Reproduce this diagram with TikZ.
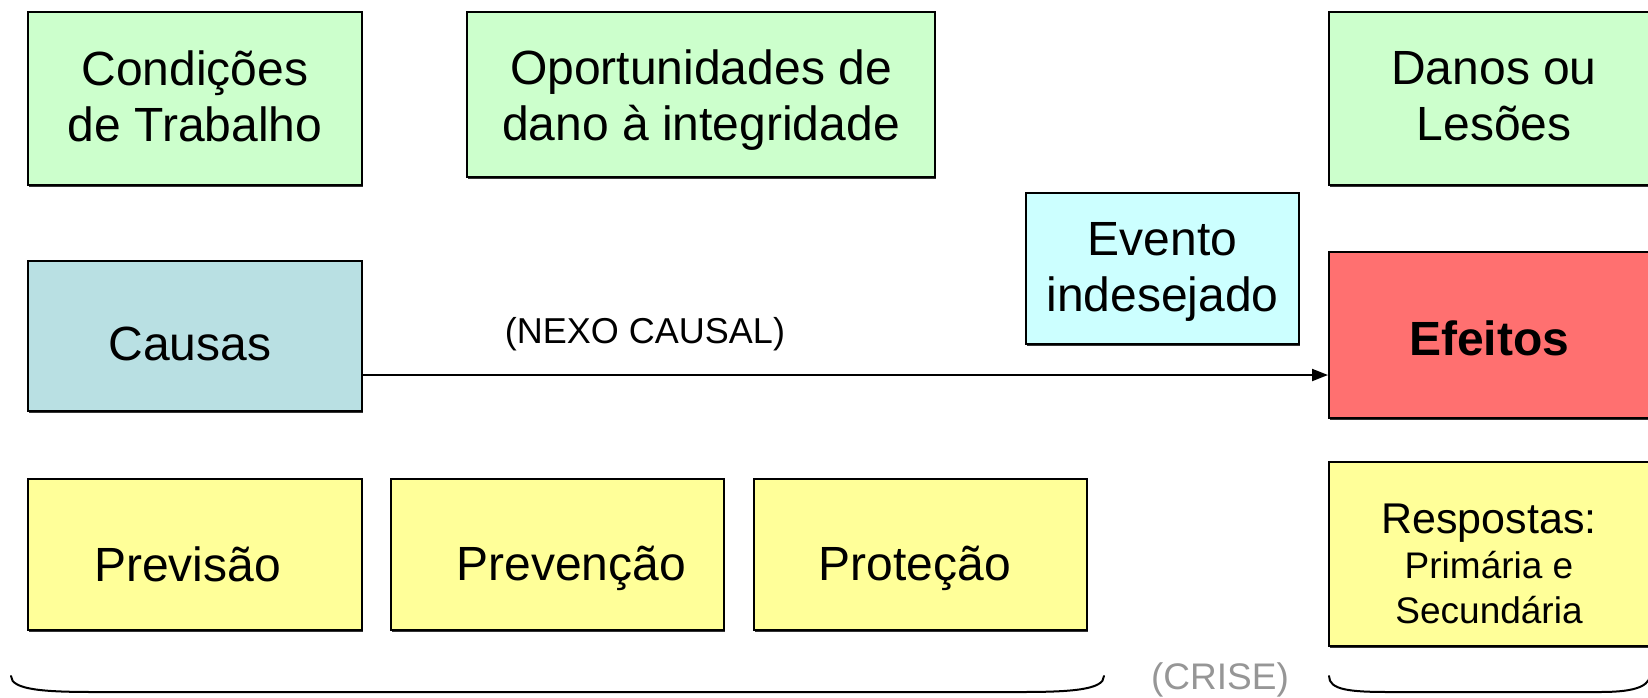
\documentclass[tikz,border=0pt]{standalone}
\usepackage{fontspec}
\setmainfont{Liberation Sans}
\usetikzlibrary{arrows.meta,shadows}
\definecolor{gbox}{RGB}{204,255,204}
\definecolor{cbox}{RGB}{185,224,227}
\definecolor{ebox}{RGB}{204,255,255}
\definecolor{rbox}{RGB}{255,112,112}
\definecolor{ybox}{RGB}{255,255,153}
\definecolor{crisegray}{RGB}{150,150,150}
\tikzset{
  box/.style={draw=black, line width=1pt, inner sep=0pt,
    drop shadow={shadow xshift=0.4pt, shadow yshift=-0.9pt, fill=black, opacity=0.8}},
  txt/.style={align=center, inner sep=0pt, font=\fontsize{24}{28}\selectfont},
  lbl/.style={font=\fontsize{18}{21}\selectfont, inner sep=0pt},
  arr/.style={line width=1pt, -{Triangle[length=8pt,width=6pt]}},
  brace/.style={line width=1pt, line cap=round}
}
\begin{document}
\begin{tikzpicture}[x=0.5pt,y=-0.5pt]
\useasboundingbox (0,0) rectangle (1648,697);
% top row
\node[box, fill=gbox, minimum width=167pt, minimum height=86.5pt,
  label={[txt, yshift=1.3pt]center:{Condições\\de Trabalho}}] (cond) at (195,98.5) {};
\node[box, fill=gbox, minimum width=234pt, minimum height=82.5pt,
  label={[txt, yshift=-2.9pt]center:{Oportunidades de\\dano à integridade}}] (oport) at (701,94.5) {};
\node[box, fill=gbox, minimum width=185pt, minimum height=86.5pt,
  label={[txt, xshift=-10pt, yshift=1.3pt]center:{Danos ou\\Lesões}}] (danos) at (1514,98.5) {};
% middle row
\node[box, fill=ebox, minimum width=136.5pt, minimum height=75.5pt,
  label={[txt, yshift=-1.8pt]center:{Evento\\indesejado}}] (evento) at (1162.5,268.5) {};
\node[box, fill=cbox, minimum width=167pt, minimum height=75pt,
  label={[txt, xshift=-2.6pt, yshift=-4.2pt]center:{Causas}}] (causas) at (195,336) {};
\node[box, fill=rbox, minimum width=185pt, minimum height=83pt,
  label={[txt, xshift=-12.5pt, yshift=-1.6pt, font=\fontsize{24}{28}\selectfont\bfseries]center:{Efeitos}}] (efeitos) at (1514,335) {};
\coordinate (axis) at (0,375);
\draw[arr] (causas.east |- axis) -- (efeitos.west |- axis);
\node[lbl] (nexo) at (645,334) {(NEXO CAUSAL)};
% bottom row
\node[box, fill=ybox, minimum width=167pt, minimum height=75.5pt,
  label={[txt, xshift=-3.7pt, yshift=-4.7pt]center:{Previsão}}] (prev) at (195,554.5) {};
\node[box, fill=ybox, minimum width=166.5pt, minimum height=75.5pt,
  label={[txt, xshift=6.8pt, yshift=-6.8pt]center:{Prevenção}}] (preven) at (557.5,554.5) {};
\node[box, fill=ybox, minimum width=166.5pt, minimum height=75.5pt,
  label={[txt, xshift=-2.9pt, yshift=-6.8pt]center:{Proteção}}] (prot) at (920.5,554.5) {};
\node[box, fill=ybox, minimum width=185pt, minimum height=92pt,
  label={[txt, xshift=-12.5pt, yshift=-4.7pt, font=\fontsize{18.5}{22.5}\selectfont]center:{{\fontsize{21.5}{23.5}\selectfont Respostas:}\\Primária e\\Secundária}}] (resp) at (1514,554) {};
% braces
\node[lbl, text=crisegray, font=\fontsize{18.5}{22}\selectfont] (crise) at (1220,680) {(CRISE)};
\draw[brace] (11,676) .. controls (11,690) and (45,692) .. (95,692) -- (1020,692) .. controls (1070,692) and (1104,690) .. (1104,676);
\draw[brace] (1329,676) .. controls (1329,690) and (1350,692) .. (1390,692) -- (1600,692) .. controls (1630,692) and (1648,688) .. (1650,676);
\end{tikzpicture}
\end{document}
